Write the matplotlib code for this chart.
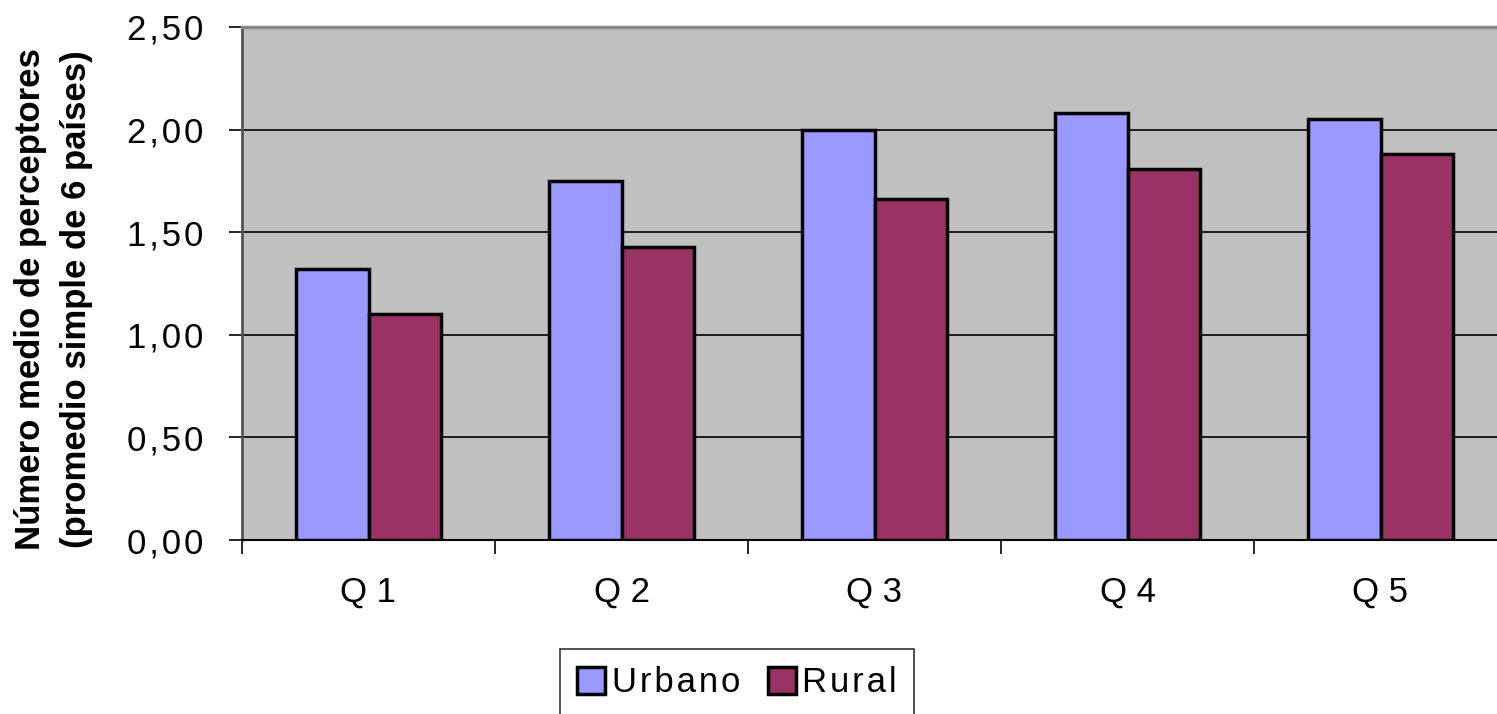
import matplotlib.pyplot as plt
import numpy as np
from matplotlib.ticker import MultipleLocator, FixedLocator

# data
categories = ["Q1", "Q2", "Q3", "Q4", "Q5"]
urbano = [1.32, 1.75, 2.00, 2.08, 2.05]
rural = [1.10, 1.43, 1.66, 1.81, 1.88]
y_ticks = [0.0, 0.5, 1.0, 1.5, 2.0, 2.5]

plt.rcParams["font.family"] = ["Liberation Sans", "DejaVu Sans"]

fig = plt.figure(figsize=(14.97, 7.14), dpi=100)
ax = fig.add_axes([242 / 1497, 174 / 714, 1265 / 1497, 513 / 714])
ax.set_facecolor("#C0C0C0")

x = np.arange(len(categories))
w = 0.285
ax.bar(x - w / 2, urbano, w, color="#9999FF", edgecolor="black", linewidth=2.5,
       label="Urbano", zorder=3)
ax.bar(x + w / 2, rural, w, color="#993366", edgecolor="black", linewidth=2.5,
       label="Rural", zorder=3)

ax.set_xlim(-0.5, len(categories) - 0.5)
ax.set_ylim(0, 2.5)
ax.yaxis.set_major_locator(FixedLocator(y_ticks))
ax.set_yticklabels(["\u200a".join("{:.2f}".format(v).replace(".", ","))
                    for v in y_ticks])
ax.yaxis.grid(True, color="black", linewidth=1.2, zorder=1)
ax.set_axisbelow(True)

ax.set_xticks(x)
ax.set_xticklabels([c[0] + " " + c[1:] for c in categories])
ax.xaxis.set_minor_locator(MultipleLocator(1, offset=0.5))
ax.tick_params(axis="x", which="major", length=0, pad=26, labelsize=25)
ax.tick_params(axis="x", which="minor", length=10, width=1.2, direction="out")
ax.tick_params(axis="y", length=9.5, width=1.2, pad=18, labelsize=25)

ax.spines["right"].set_visible(False)
ax.spines["top"].set_color("#888888")
ax.spines["top"].set_linewidth(2.5)
ax.spines["left"].set_color("#555555")
ax.spines["left"].set_linewidth(2)
ax.spines["bottom"].set_linewidth(1.5)

ax.set_ylabel("Número medio de perceptores\n(promedio simple de 6 países)",
              fontsize=25, fontweight="bold", linespacing=1.5)
ax.yaxis.set_label_coords(-0.118, 0.47)

leg = fig.legend(loc="center", bbox_to_anchor=(737 / 1497, 1 - 683 / 714),
                 ncol=2, frameon=True, fancybox=False, fontsize=25,
                 handlelength=0.8, handleheight=0.8, handletextpad=0.2,
                 columnspacing=0.8, borderpad=0.5)
leg.get_frame().set_edgecolor("black")
leg.get_frame().set_linewidth(1.2)
for t in leg.get_texts():
    t.set_text("\u200a".join(t.get_text()))

fig.savefig("out.png", dpi=100)
